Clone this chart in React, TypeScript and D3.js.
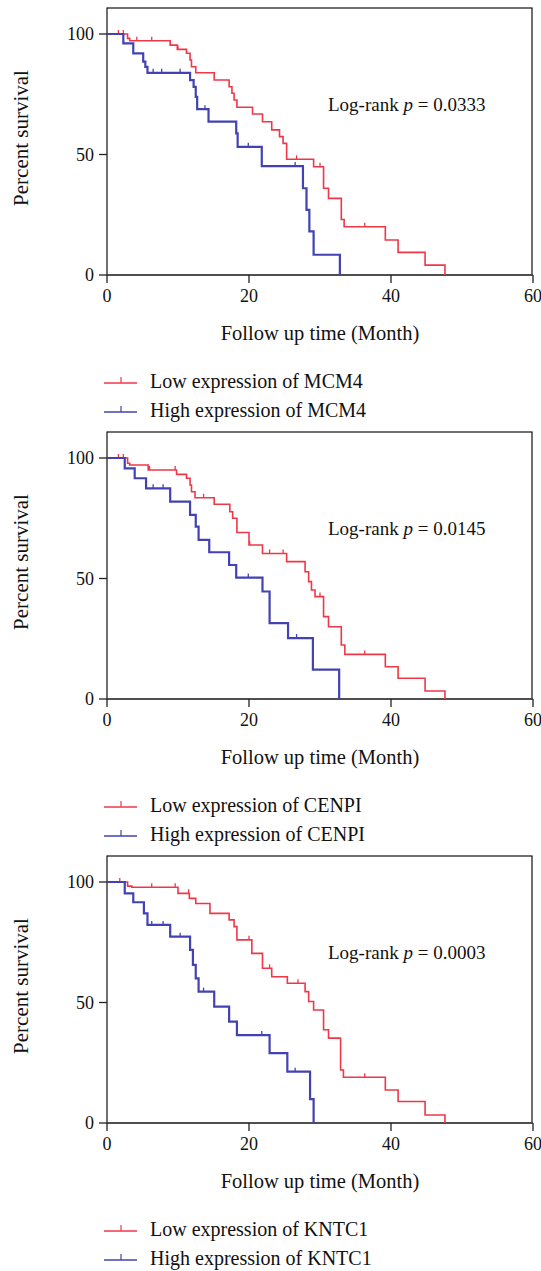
import React from "react";
import * as d3 from "d3";

type Step = [number, number];

// survival steps: [month, percent after the step]
const mcm4Low: Step[] = [[0, 100], [2.9, 98.2], [3.2, 97.2], [8.9, 95.4], [9.9, 93.6], [11.2, 92.0], [11.7, 89.2], [11.9, 86.4], [12.5, 83.9], [15.1, 80.9], [17.2, 78.1], [17.6, 75.4], [17.9, 72.6], [18.3, 69.6], [20.5, 66.8], [21.9, 63.6], [23.2, 60.2], [24.3, 57.4], [24.8, 54.6], [25.3, 48.0], [29.1, 44.9], [30.5, 36.0], [31.2, 31.8], [33.0, 23.0], [33.4, 20.0], [39.2, 14.5], [41.0, 9.4], [44.8, 4.1], [47.6, 0]];
const mcm4High: Step[] = [[0, 100], [2.3, 96.1], [3.7, 92.0], [5.1, 88.5], [5.4, 86.4], [5.7, 83.9], [11.7, 80.9], [12.2, 78.1], [12.5, 73.9], [12.7, 68.8], [14.3, 63.6], [18.2, 58.8], [18.4, 53.2], [21.8, 45.2], [27.6, 36.0], [28.1, 27.0], [28.5, 18.1], [29.1, 8.4], [32.8, 0]];
const cenpiLow: Step[] = [[0, 100], [2.9, 97.8], [3.2, 97.1], [5.8, 95.0], [9.8, 93.2], [11.2, 91.6], [11.7, 88.8], [11.9, 86.0], [12.4, 83.5], [15.1, 80.8], [17.3, 77.7], [17.7, 75.0], [18.3, 69.1], [20.0, 63.9], [21.9, 60.4], [25.3, 57.0], [27.9, 52.8], [28.4, 48.7], [28.8, 45.2], [29.3, 42.5], [30.5, 34.2], [31.2, 30.0], [33.0, 22.4], [33.5, 18.5], [39.2, 13.4], [41.0, 8.6], [44.8, 3.3], [47.6, 0]];
const cenpiHigh: Step[] = [[0, 100], [2.5, 95.7], [3.9, 91.6], [5.5, 87.4], [8.9, 81.9], [11.7, 76.4], [12.5, 71.5], [12.9, 66.0], [14.4, 60.9], [17.2, 55.6], [18.2, 50.4], [21.9, 44.6], [22.9, 31.5], [25.5, 25.3], [29.0, 12.2], [32.7, 0]];
const kntc1Low: Step[] = [[0, 100], [2.9, 98.3], [3.5, 97.8], [10.0, 95.3], [11.6, 93.2], [12.5, 91.1], [14.5, 87.0], [17.2, 84.3], [17.9, 81.5], [18.3, 76.0], [20.4, 70.4], [21.9, 64.2], [23.2, 60.7], [25.4, 58.0], [27.9, 54.5], [28.4, 50.4], [29.1, 46.9], [30.5, 38.7], [31.2, 35.2], [32.9, 22.0], [33.3, 19.0], [39.2, 13.7], [41.0, 8.9], [44.8, 3.3], [47.6, 0]];
const kntc1High: Step[] = [[0, 100], [2.5, 95.3], [3.7, 91.6], [5.2, 87.0], [5.7, 82.2], [8.9, 77.3], [11.7, 71.8], [12.1, 65.6], [12.5, 60.0], [12.9, 54.5], [15.1, 48.3], [17.2, 42.1], [18.3, 36.5], [22.9, 29.0], [25.4, 21.3], [28.6, 9.9], [29.1, 0]];

// censored times (months)
const mcm4LowCens = [1.6, 2.3, 4.2, 6.3, 10.0, 26.7, 30.0, 36.3];
const mcm4HighCens = [6.5, 7.7, 10.3, 13.8, 19.9, 26.5];
const cenpiLowCens = [1.6, 2.3, 6.0, 9.6, 13.6, 20.1, 22.9, 24.8, 30.0, 36.3];
const cenpiHighCens = [6.5, 7.9, 19.9, 26.7];
const kntc1LowCens = [1.8, 6.3, 9.6, 11.5, 20.0, 22.9, 26.9, 36.3];
const kntc1HighCens = [6.3, 7.9, 10.3, 13.6, 21.8, 26.5];

const genes = ["MCM4", "CENPI", "KNTC1"];
const pValues = ["0.0333", "0.0145", "0.0003"];
const xTicks = [0, 20, 40, 60];
const yTicks = [0, 50, 100];

const panels = [
  { low: mcm4Low, high: mcm4High, lowC: mcm4LowCens, highC: mcm4HighCens },
  { low: cenpiLow, high: cenpiHigh, lowC: cenpiLowCens, highC: cenpiHighCens },
  { low: kntc1Low, high: kntc1High, lowC: kntc1LowCens, highC: kntc1HighCens },
];

const RED = "#ee3848";
const BLUE = "#4242b4";
const FONT = "'Liberation Serif', 'DejaVu Serif', serif";

const x = d3.scaleLinear().domain([0, 60]).range([107, 533]);
const y = d3.scaleLinear().domain([0, 100]).range([275, 34]);
const line = d3.line<Step>().x(d => x(d[0])).y(d => y(d[1])).curve(d3.curveStepAfter);

const survAt = (steps: Step[], t: number) => {
  let v = 100;
  for (const s of steps) if (s[0] <= t) v = s[1];
  return v;
};

const Curve = ({ steps, cens, color, width }: { steps: Step[]; cens: number[]; color: string; width: number }) => (
  <g>
    <path d={line(steps) || ""} fill="none" stroke={color} strokeWidth={width} />
    {cens.map((t, i) => (
      <line key={i} x1={x(t)} x2={x(t)} y1={y(survAt(steps, t))} y2={y(survAt(steps, t)) - 4} stroke={color} strokeWidth={1.3} />
    ))}
  </g>
);

const Panel = ({ idx }: { idx: number }) => {
  const p = panels[idx];
  return (
    <g transform={`translate(0, ${idx * 424})`}>
      <rect x={107} y={8} width={425} height={267} fill="none" stroke="#111" strokeWidth={1.2} />
      <line x1={107} x2={533} y1={275} y2={275} stroke="#444" strokeWidth={1.6} />
      {yTicks.map(t => (
        <g key={t}>
          <line x1={99} x2={107} y1={y(t)} y2={y(t)} stroke="#222" strokeWidth={1.3} />
          <text x={94} y={y(t) + 6} textAnchor="end" fontSize={18}>{t}</text>
        </g>
      ))}
      {xTicks.map(t => (
        <g key={t}>
          <line x1={x(t)} x2={x(t)} y1={275} y2={283} stroke="#222" strokeWidth={1.3} />
          <text x={x(t)} y={302} textAnchor="middle" fontSize={18}>{t}</text>
        </g>
      ))}
      <text transform="translate(28, 138) rotate(-90)" textAnchor="middle" fontSize={21}>Percent survival</text>
      <text x={320} y={340} textAnchor="middle" fontSize={20.5}>Follow up time (Month)</text>
      <Curve steps={p.low} cens={p.lowC} color={RED} width={1.6} />
      <Curve steps={p.high} cens={p.highC} color={BLUE} width={2.2} />
      <text x={328} y={111} fontSize={19}>
        Log-rank <tspan fontStyle="italic">p</tspan> = {pValues[idx]}
      </text>
      {[
        { c: RED, label: `Low expression of ${genes[idx]}`, ly: 383 },
        { c: BLUE, label: `High expression of ${genes[idx]}`, ly: 412 },
      ].map(l => (
        <g key={l.label}>
          <line x1={104} x2={137} y1={l.ly} y2={l.ly} stroke={l.c} strokeWidth={1.6} />
          <line x1={121} x2={121} y1={l.ly} y2={l.ly - 6} stroke={l.c} strokeWidth={1.2} />
          <text x={150} y={l.ly + 5} fontSize={20}>{l.label}</text>
        </g>
      ))}
    </g>
  );
};

export default function App() {
  return (
    <svg width={541} height={1271} style={{ position: "absolute", left: 0, top: 0, background: "#fff" }} fontFamily={FONT} fill="#111">
      {genes.map((g, i) => <Panel key={g} idx={i} />)}
    </svg>
  );
}
